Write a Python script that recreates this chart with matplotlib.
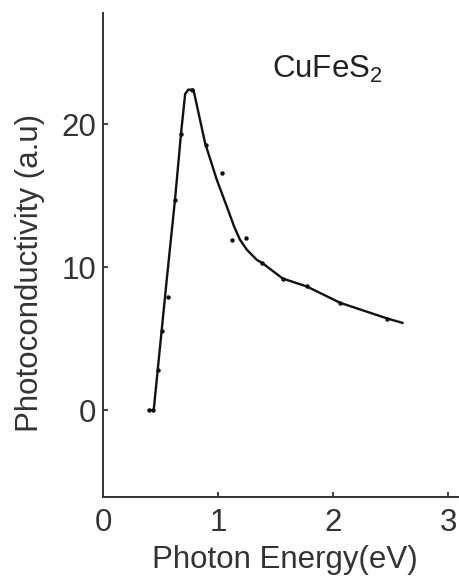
import numpy as np
import matplotlib
matplotlib.use('Agg')
import matplotlib.pyplot as plt

plt.rcParams['font.family'] = ['Liberation Sans', 'DejaVu Sans']
plt.rcParams['mathtext.fontset'] = 'custom'
plt.rcParams['mathtext.rm'] = 'Liberation Sans'

# measured points (photon energy in eV, photoconductivity in a.u.)
energy = [0.40, 0.437, 0.48, 0.515, 0.568, 0.626, 0.678, 0.77,
          0.895, 1.03, 1.12, 1.24, 1.38, 1.56, 1.77, 2.06, 2.47]
photo = [0.0, 0.0, 2.8, 5.5, 7.9, 14.7, 19.3, 22.4,
         18.5, 16.6, 11.9, 12.0, 10.3, 9.2, 8.7, 7.5, 6.4]

# hand drawn curve through the points
curve_e = [0.40, 0.44, 0.553, 0.626, 0.678, 0.713, 0.74, 0.785, 0.887, 0.988,
           1.09, 1.14, 1.19, 1.25, 1.336, 1.38, 1.56, 1.77, 2.06, 2.47, 2.60]
curve_p = [0.0, 0.0, 9.1, 14.8, 19.4, 22.1, 22.4, 22.4, 18.65, 16.1,
           13.9, 12.8, 11.9, 11.2, 10.5, 10.3, 9.2, 8.64, 7.5, 6.4, 6.1]

xticks = [0, 1, 2, 3]
yticks = [0, 10, 20]

fig = plt.figure(figsize=(4.6, 5.78), dpi=100)
ax = fig.add_axes([0.224, 0.140, 0.776, 0.8375])

ax.plot(curve_e, curve_p, color='#111111', lw=1.7, solid_joinstyle='round')
ax.plot(energy, photo, 'o', color='#111111', ms=3.2, mec='none')

ax.set_xlim(0, 3.1)
ax.set_ylim(-6.08, 27.76)
ax.set_xticks(xticks)
ax.set_yticks(yticks)

for s in ['top', 'right']:
    ax.spines[s].set_visible(False)
for s in ['left', 'bottom']:
    ax.spines[s].set_color('#333333')
    ax.spines[s].set_linewidth(1.4)

ax.tick_params(axis='both', direction='in', length=3.5, width=1.3,
               color='#333333', labelsize=22.5, labelcolor='#333333')
ax.tick_params(axis='x', pad=8)
ax.tick_params(axis='y', pad=5)

ax.text(1.47, 23.2, r'CuFeS$_2$', fontsize=22.5, color='#222222',
        ha='left', va='baseline')

fig.text(30 / 460, 1 - 273 / 578, 'Photoconductivity (a.u)', rotation=90,
         fontsize=22.5, color='#333333', ha='center', va='center')
fig.text(284.5 / 460, 1 - 568 / 578, 'Photon Energy(eV)', fontsize=22.5,
         color='#333333', ha='center', va='baseline')

fig.savefig('out.png', dpi=100)
